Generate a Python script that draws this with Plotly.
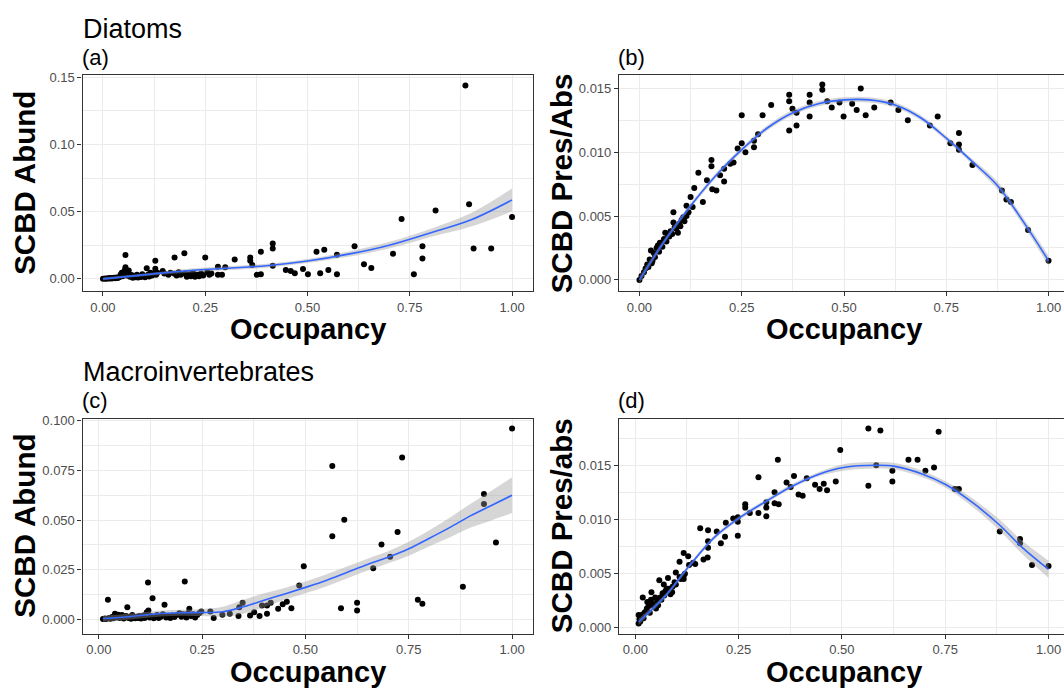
import plotly.graph_objects as go

# ---------------- data ----------------
# (a) Diatoms, SCBD Abund vs Occupancy
occ_a = [0.000,0.005,0.008,0.012,0.015,0.018,0.020,0.024,0.027,0.030,
         0.033,0.036,0.040,0.043,0.046,0.048,0.050,0.053,0.055,0.055,
         0.058,0.060,0.063,0.066,0.070,0.073,0.076,0.080,0.083,0.086,
         0.090,0.093,0.096,0.100,0.103,0.107,0.110,0.113,0.116,0.120,
         0.123,0.128,0.128,0.130,0.133,0.146,0.150,0.160,0.165,0.175,
         0.175,0.180,0.185,0.190,0.199,0.200,0.205,0.210,0.215,0.220,
         0.225,0.230,0.235,0.240,0.245,0.250,0.255,0.260,0.265,0.281,
         0.281,0.291,0.299,0.322,0.360,0.360,0.365,0.376,0.386,0.386,
         0.415,0.415,0.415,0.447,0.459,0.469,0.489,0.501,0.522,0.531,
         0.541,0.551,0.572,0.572,0.615,0.638,0.656,0.709,0.730,0.760,
         0.781,0.781,0.813,0.886,0.895,0.906,0.949,1.000]
scbd_a = [0.0000,0.0002,0.0001,0.0004,0.0002,0.0006,0.0003,0.0005,0.0008,0.0004,
          0.0010,0.0006,0.0012,0.0030,0.0045,0.0020,0.0035,0.0062,0.0177,0.0086,
          0.0025,0.0040,0.0062,0.0015,0.0028,0.0008,0.0018,0.0012,0.0030,0.0010,
          0.0022,0.0014,0.0035,0.0020,0.0012,0.0080,0.0030,0.0018,0.0045,0.0025,
          0.0040,0.0135,0.0075,0.0030,0.0045,0.0059,0.0040,0.0030,0.0045,0.0160,
          0.0038,0.0025,0.0050,0.0030,0.0190,0.0040,0.0015,0.0035,0.0020,0.0045,
          0.0015,0.0030,0.0020,0.0040,0.0025,0.0160,0.0050,0.0030,0.0040,0.0091,
          0.0030,0.0030,0.0087,0.0145,0.0160,0.0135,0.0103,0.0030,0.0202,0.0034,
          0.0263,0.0226,0.0098,0.0066,0.0059,0.0042,0.0074,0.0034,0.0202,0.0042,
          0.0216,0.0066,0.0180,0.0034,0.0243,0.0108,0.0081,0.0187,0.0445,0.0034,
          0.0243,0.0152,0.0509,0.1439,0.0556,0.0226,0.0226,0.0460]
fit_x_a = [0.0,0.1,0.2,0.3,0.4,0.5,0.6,0.7,0.8,0.9,1.0]
fit_y_a = [0.0,0.0030,0.0059,0.0079,0.0098,0.0133,0.0184,0.0251,0.0342,0.0440,0.0588]
fit_se_a = [0.0010,0.0010,0.0015,0.0015,0.0015,0.0015,0.0020,0.0025,0.0030,0.0050,0.0085]

# (b) Diatoms, SCBD Pres/Abs vs Occupancy
occ_b = [0.000,0.005,0.011,0.015,0.019,0.022,0.025,0.028,0.030,0.032,
         0.035,0.038,0.042,0.045,0.048,0.050,0.053,0.056,0.060,0.063,
         0.066,0.070,0.073,0.076,0.080,0.083,0.083,0.086,0.090,0.094,
         0.097,0.100,0.103,0.107,0.110,0.115,0.115,0.120,0.125,0.130,
         0.134,0.144,0.155,0.165,0.176,0.176,0.178,0.188,0.197,0.207,
         0.207,0.222,0.230,0.240,0.250,0.250,0.259,0.280,0.280,0.290,
         0.301,0.322,0.366,0.366,0.366,0.374,0.384,0.384,0.416,0.416,
         0.416,0.447,0.447,0.459,0.470,0.489,0.499,0.520,0.531,0.541,
         0.553,0.574,0.614,0.633,0.656,0.710,0.729,0.760,0.781,0.781,
         0.781,0.814,0.886,0.897,0.908,0.950,1.000]
scbd_b = [0.0000,0.0003,0.0006,0.0009,0.0012,0.0010,0.0016,0.0023,0.0013,0.0015,
          0.0021,0.0018,0.0025,0.0027,0.0022,0.0029,0.0029,0.0026,0.0032,0.0037,
          0.0030,0.0035,0.0034,0.0038,0.0036,0.0053,0.0045,0.0041,0.0040,0.0037,
          0.0044,0.0042,0.0047,0.0049,0.0046,0.0058,0.0050,0.0053,0.0065,0.0057,
          0.0072,0.0084,0.0061,0.0078,0.0094,0.0089,0.0071,0.0070,0.0082,0.0087,
          0.0077,0.0091,0.0092,0.0103,0.0129,0.0107,0.0100,0.0109,0.0104,0.0114,
          0.0129,0.0137,0.0145,0.0140,0.0117,0.0134,0.0131,0.0121,0.0145,0.0139,
          0.0128,0.0153,0.0149,0.0140,0.0135,0.0139,0.0128,0.0138,0.0133,0.0150,
          0.0129,0.0135,0.0139,0.0133,0.0125,0.0121,0.0128,0.0107,0.0115,0.0106,
          0.0102,0.0090,0.0070,0.0063,0.0061,0.0039,0.0015]
fit_x_b = [0.0,0.0625,0.125,0.1875,0.25,0.3125,0.375,0.4375,0.5,0.5625,0.625,0.6875,0.75,0.8125,0.875,0.9375,1.0]
fit_y_b = [0.0,0.0031,0.0058,0.0082,0.0102,0.0119,0.0131,0.0138,0.0141,0.0141,0.0137,0.0127,0.0111,0.0093,0.0074,0.0046,0.0015]
fit_se_b = [0.0003,0.0002,0.0002,0.0002,0.0002,0.0002,0.0002,0.0002,0.0002,0.0002,0.0002,0.0002,0.0002,0.0002,0.0003,0.0003,0.0004]

# (c) Macroinvertebrates, SCBD Abund vs Occupancy
occ_c = [0.010,0.015,0.018,0.022,0.025,0.028,0.032,0.035,0.039,0.042,
         0.045,0.047,0.050,0.053,0.056,0.060,0.063,0.066,0.069,0.072,
         0.075,0.078,0.081,0.085,0.088,0.092,0.095,0.098,0.102,0.105,
         0.108,0.111,0.116,0.119,0.120,0.123,0.126,0.130,0.133,0.137,
         0.141,0.145,0.150,0.155,0.159,0.163,0.168,0.173,0.178,0.183,
         0.190,0.195,0.200,0.204,0.208,0.212,0.216,0.219,0.223,0.228,
         0.233,0.238,0.243,0.248,0.270,0.278,0.299,0.317,0.338,0.340,
         0.348,0.366,0.376,0.389,0.395,0.407,0.407,0.416,0.434,0.445,
         0.455,0.466,0.485,0.496,0.565,0.565,0.586,0.594,0.625,0.625,
         0.664,0.684,0.705,0.723,0.734,0.772,0.783,0.881,0.932,0.932,
         0.961,1.000]
scbd_c = [0.0000,0.0003,0.0001,0.0098,0.0005,0.0002,0.0010,0.0004,0.0027,0.0008,
          0.0015,0.0022,0.0005,0.0012,0.0020,0.0003,0.0008,0.0015,0.0060,0.0005,
          0.0012,0.0002,0.0020,0.0008,0.0004,0.0012,0.0006,0.0015,0.0003,0.0010,
          0.0018,0.0006,0.0035,0.0185,0.0043,0.0008,0.0015,0.0105,0.0004,0.0010,
          0.0020,0.0006,0.0012,0.0025,0.0072,0.0008,0.0015,0.0005,0.0018,0.0010,
          0.0022,0.0030,0.0012,0.0025,0.0190,0.0008,0.0030,0.0052,0.0015,0.0025,
          0.0008,0.0020,0.0030,0.0038,0.0038,0.0005,0.0022,0.0027,0.0015,0.0060,
          0.0082,0.0018,0.0035,0.0015,0.0068,0.0068,0.0027,0.0082,0.0052,0.0075,
          0.0088,0.0055,0.0170,0.0266,0.0772,0.0418,0.0055,0.0501,0.0082,0.0043,
          0.0256,0.0376,0.0314,0.0439,0.0815,0.0097,0.0077,0.0163,0.0631,0.0581,
          0.0386,0.0962]
fit_x_c = [0.01,0.05,0.1,0.15,0.2,0.25,0.3,0.35,0.4,0.45,0.5,0.55,0.6,0.65,0.7,0.75,0.8,0.85,0.9,0.95,1.0]
fit_y_c = [0.0003,0.0008,0.0018,0.0028,0.0032,0.0033,0.0037,0.0062,0.0095,0.0127,0.0160,0.0195,0.0235,0.0275,0.0312,0.0355,0.0408,0.0463,0.0522,0.0573,0.0625]
fit_se_c = [0.0015,0.0015,0.0015,0.0015,0.0015,0.0018,0.0025,0.0035,0.0035,0.0030,0.0030,0.0030,0.0030,0.0030,0.0030,0.0035,0.0040,0.0050,0.0060,0.0075,0.0090]

# (d) Macroinvertebrates, SCBD Pres/abs vs Occupancy
occ_d = [0.008,0.008,0.010,0.012,0.015,0.018,0.020,0.022,0.025,0.028,
         0.029,0.032,0.035,0.038,0.039,0.042,0.045,0.048,0.050,0.053,
         0.055,0.058,0.060,0.063,0.066,0.069,0.070,0.073,0.076,0.079,
         0.080,0.085,0.089,0.090,0.095,0.098,0.098,0.107,0.107,0.110,
         0.117,0.117,0.117,0.120,0.128,0.130,0.140,0.145,0.157,0.165,
         0.175,0.176,0.176,0.176,0.197,0.207,0.217,0.219,0.237,0.248,
         0.248,0.248,0.266,0.266,0.277,0.298,0.298,0.317,0.317,0.317,
         0.337,0.337,0.345,0.347,0.366,0.376,0.384,0.395,0.405,0.415,
         0.435,0.446,0.456,0.464,0.485,0.496,0.564,0.564,0.583,0.593,
         0.622,0.622,0.661,0.683,0.702,0.723,0.734,0.773,0.783,0.882,
         0.931,0.931,0.960,1.000]
scbd_d = [0.0004,0.0012,0.0008,0.0006,0.0012,0.0028,0.0009,0.0014,0.0015,0.0018,
          0.0024,0.0020,0.0014,0.0026,0.0033,0.0022,0.0020,0.0028,0.0018,0.0025,
          0.0021,0.0044,0.0028,0.0026,0.0032,0.0040,0.0030,0.0034,0.0036,0.0046,
          0.0036,0.0031,0.0033,0.0038,0.0042,0.0051,0.0040,0.0061,0.0047,0.0045,
          0.0069,0.0048,0.0045,0.0050,0.0066,0.0058,0.0060,0.0059,0.0092,0.0063,
          0.0065,0.0090,0.0080,0.0074,0.0089,0.0078,0.0084,0.0097,0.0101,0.0102,
          0.0098,0.0085,0.0114,0.0111,0.0106,0.0139,0.0106,0.0116,0.0111,0.0103,
          0.0125,0.0115,0.0155,0.0114,0.0134,0.0130,0.0140,0.0123,0.0122,0.0138,
          0.0132,0.0128,0.0133,0.0127,0.0135,0.0164,0.0184,0.0131,0.0150,0.0182,
          0.0145,0.0135,0.0155,0.0155,0.0145,0.0148,0.0181,0.0128,0.0128,0.0089,
          0.0082,0.0078,0.0058,0.0057]
fit_x_d = [0.008,0.074,0.124,0.19,0.25,0.322,0.376,0.446,0.504,0.583,0.628,0.694,0.752,0.818,0.884,0.934,1.0]
fit_y_d = [0.00055,0.0030,0.0054,0.0083,0.0101,0.0118,0.0130,0.0142,0.0148,0.0150,0.0149,0.0142,0.0132,0.0115,0.0094,0.0075,0.0054]
fit_se_d = [0.0003,0.0002,0.0002,0.0002,0.0002,0.0002,0.0002,0.0002,0.0003,0.0003,0.0003,0.0003,0.0003,0.0004,0.0005,0.0006,0.0008]

x_tick_vals = [0, 0.25, 0.5, 0.75, 1.0]
x_tick_text = ["0.00", "0.25", "0.50", "0.75", "1.00"]

group_titles = ["Diatoms", "Macroinvertebrates"]
panel_tags = ["(a)", "(b)", "(c)", "(d)"]
y_titles = ["SCBD Abund", "SCBD Pres/Abs", "SCBD Abund", "SCBD Pres/abs"]
x_title = "Occupancy"

# ---------------- layout helpers ----------------
W, H = 1064, 689
FONT = "Liberation Sans, Arial, Helvetica, sans-serif"

def px(x):
    return x / W

def py(y):
    return 1 - y / H

# panel boxes in pixels: (left, right, top, bottom); right panels run past the page edge
boxes = [(82.5, 532.5, 71, 289.3), (619, 1064, 71, 289.3),
         (82.5, 532.5, 418, 635), (619, 1064, 418, 635)]
full_right = [532.5, 1069, 532.5, 1069]
x_ranges = [[-0.05, 1.05], [-0.05, 1.0378], [-0.0395, 1.0495], [-0.0395, 1.0374]]
y_ranges = [[-0.0093, 0.1516], [-0.0009, 0.01603], [-0.0073, 0.1011], [-0.00052, 0.01929]]
y_dticks = [0.05, 0.005, 0.025, 0.005]
y_formats = [".2f", ".3f", ".3f", ".3f"]

panels = [
    (occ_a, scbd_a, fit_x_a, fit_y_a, fit_se_a),
    (occ_b, scbd_b, fit_x_b, fit_y_b, fit_se_b),
    (occ_c, scbd_c, fit_x_c, fit_y_c, fit_se_c),
    (occ_d, scbd_d, fit_x_d, fit_y_d, fit_se_d),
]

fig = go.Figure()
layout_axes = {}
annotations = []

for i, (ox, oy, fx, fy, fse) in enumerate(panels):
    n = "" if i == 0 else str(i + 1)
    xa, ya = "x" + n, "y" + n
    lo = [v - s for v, s in zip(fy, fse)]
    hi = [v + s for v, s in zip(fy, fse)]
    fig.add_trace(go.Scatter(x=ox, y=oy, mode="markers", xaxis=xa, yaxis=ya,
                             marker=dict(color="black", size=6), showlegend=False,
                             hoverinfo="skip"))
    fig.add_trace(go.Scatter(x=fx, y=lo, mode="lines", xaxis=xa, yaxis=ya,
                             line=dict(width=0, shape="spline"), showlegend=False,
                             hoverinfo="skip"))
    fig.add_trace(go.Scatter(x=fx, y=hi, mode="lines", xaxis=xa, yaxis=ya,
                             line=dict(width=0, shape="spline"), fill="tonexty",
                             fillcolor="rgba(153,153,153,0.4)", showlegend=False,
                             hoverinfo="skip"))
    fig.add_trace(go.Scatter(x=fx, y=fy, mode="lines", xaxis=xa, yaxis=ya,
                             line=dict(color="#3366FF", width=1.6, shape="spline"),
                             showlegend=False, hoverinfo="skip"))

    L, R, T, B = boxes[i]
    right_panel = i in (1, 3)
    common = dict(showgrid=True, gridcolor="#EBEBEB", gridwidth=1.1, zeroline=False,
                  showline=True, linecolor="#333333", linewidth=1.1,
                  ticks="outside", ticklen=4, tickwidth=1, tickcolor="#333333",
                  tickfont=dict(family=FONT, size=13, color="#4D4D4D"))
    layout_axes["xaxis" + n] = dict(
        common, domain=[px(L), px(R)], range=x_ranges[i], anchor=ya, mirror=True,
        tickvals=x_tick_vals, ticktext=x_tick_text,
        minor=dict(showgrid=True, gridcolor="#EBEBEB", gridwidth=0.6, dtick=0.125,
                   tick0=0, ticks=""))
    layout_axes["yaxis" + n] = dict(
        common, domain=[py(B), py(T)], range=y_ranges[i], anchor=xa,
        mirror=(not right_panel), tick0=0, dtick=y_dticks[i], tickformat=y_formats[i],
        minor=dict(showgrid=True, gridcolor="#EBEBEB", gridwidth=0.6,
                   dtick=y_dticks[i] / 2, tick0=0, ticks=""))

    # panel tag
    annotations.append(dict(text=panel_tags[i], xref="paper", yref="paper",
                            x=px(L - 3), y=py(T - 18), xanchor="left", yanchor="middle",
                            showarrow=False, font=dict(family=FONT, size=22, color="black")))
    # x title
    annotations.append(dict(text="<b>" + x_title + "</b>", xref="paper", yref="paper",
                            x=px((L + full_right[i]) / 2), y=py(B + 38.5),
                            xanchor="center", yanchor="middle", borderpad=0,
                            showarrow=False, font=dict(family=FONT, size=29, color="black")))
    # y title
    annotations.append(dict(text="<b>" + y_titles[i] + "</b>", xref="paper", yref="paper",
                            x=px(L - 58), y=py((T + B) / 2), xanchor="center",
                            yanchor="middle", textangle=-90, showarrow=False,
                            font=dict(family=FONT, size=29.5, color="black")))

annotations.append(dict(text=group_titles[0], xref="paper", yref="paper",
                        x=px(81), y=py(24), xanchor="left", yanchor="middle",
                        showarrow=False, font=dict(family=FONT, size=27, color="black")))
annotations.append(dict(text=group_titles[1], xref="paper", yref="paper",
                        x=px(81), y=py(371), xanchor="left", yanchor="middle",
                        showarrow=False, font=dict(family=FONT, size=27, color="black")))

fig.update_layout(width=W, height=H, margin=dict(l=0, r=0, t=0, b=0),
                  paper_bgcolor="white", plot_bgcolor="white",
                  annotations=annotations, **layout_axes)

fig.write_html("out.html")
